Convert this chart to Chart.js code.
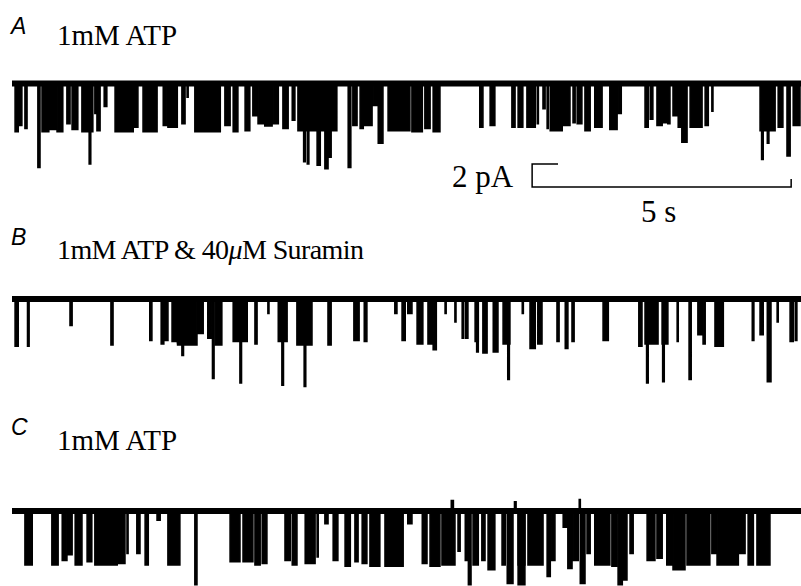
<!DOCTYPE html>
<html>
<head>
<meta charset="utf-8">
<script src="https://cdn.jsdelivr.net/npm/chart.js@4.4.1/dist/chart.umd.min.js"></script>
<style>
  html, body { margin: 0; padding: 0; background: #fff; }
  #fig { position: relative; width: 801px; height: 586px; background: #fff; overflow: hidden; }
  .panel { position: absolute; left: 12px; }
  .tag { position: absolute; left: 11px; font: italic 23px "Liberation Sans", Arial, sans-serif; line-height: 1; color: #000; }
  .cond { position: absolute; left: 57px; font: 29px "Liberation Serif", "Times New Roman", serif; line-height: 1; color: #000; white-space: nowrap; }
  .cond.long { font-size: 28px; letter-spacing: -0.6px; }
  .bar { position: absolute; font: 31px "Liberation Serif", "Times New Roman", serif; line-height: 1; color: #000; white-space: nowrap; }
</style>
</head>
<body>
<div id="fig">
  <div class="tag" style="top:15px">A</div>
  <div class="cond" style="top:21px">1mM ATP</div>
  <div class="bar" style="left:452px;top:161px">2 pA</div>
  <div class="bar" style="left:641px;top:196px">5 s</div>

  <div class="tag" style="top:226px">B</div>
  <div class="cond long" style="top:236px">1mM ATP &amp; 40<i>μ</i>M Suramin</div>

  <div class="tag" style="top:416px">C</div>
  <div class="cond" style="top:426px">1mM ATP</div>

  <canvas id="trA" class="panel" width="789" height="125" style="top:70px"></canvas>
  <canvas id="trB" class="panel" width="789" height="110" style="top:285px"></canvas>
  <canvas id="trC" class="panel" width="789" height="91" style="top:495px"></canvas>
</div>
<script>
// Recording window (s)
const T_START = 0;
const T_END = 15.23;

// Channel openings: [start s, end s, inward current pA]
const openingsA = [
  [0.06,0.12,4.2],[0.15,0.19,3.65],[0.25,0.29,3.9],
  [0.58,0.71,4.2],[0.73,0.85,4.0],[0.87,0.98,4.2],
  [1.06,1.12,3.5],[1.16,1.27,4.0],[1.35,1.56,4.2],[1.60,1.62,2.6],[1.64,1.70,4.1],[1.78,1.83,2.0],
  [1.99,2.13,4.2],[2.16,2.34,4.2],[2.37,2.43,3.8],[2.53,2.80,4.2],[2.92,2.99,3.65],[3.01,3.19,3.8],
  [3.28,3.34,3.5],[3.38,3.40,1.2],[3.53,4.02,4.2],[4.11,4.21,3.65],[4.27,4.36,4.2],[4.50,4.59,4.1],
  [4.65,4.73,2.8],[4.75,4.85,3.5],[4.88,5.02,3.7],[5.04,5.14,3.5],[5.23,5.33,3.9],[5.41,5.46,3.2],
  [5.52,5.84,4.1],[5.86,6.27,4.1],[6.58,6.66,3.65],[6.72,6.78,3.9],[6.81,6.95,3.65],[6.97,7.05,1.9],
  [7.07,7.16,5.2],[7.26,7.68,4.1],[7.72,7.92,4.2],[7.97,8.07,3.9],[8.13,8.26,4.2],
  [9.03,9.09,3.8],[9.23,9.32,3.65],[9.65,9.71,3.8],[9.77,9.86,3.8],[9.94,10.10,3.8],[10.14,10.16,3.5],
  [10.25,10.29,2.2],[10.33,10.35,3.9],[10.39,10.62,4.1],[10.64,10.77,3.65],[10.83,10.87,3.4],
  [10.91,11.00,3.5],[11.06,11.16,4.1],[11.25,11.39,3.8],[11.54,11.68,4.0],[11.70,11.76,2.6],
  [12.22,12.28,3.8],[12.32,12.37,3.1],[12.45,12.55,3.65],[12.57,12.64,3.4],[12.66,12.70,3.5],
  [12.76,12.85,2.8],[12.86,12.93,3.8],[13.09,13.32,3.8],[13.38,13.44,3.65],[13.51,13.53,2.4],
  [14.44,14.73,4.1],[14.79,14.88,3.8],[15.08,15.21,3.65]
];
// Double openings / large excursions
const spikesA = [
  [0.50,0.54,7.3],[1.49,1.52,7.0],[5.63,5.66,6.8],[5.70,5.73,7.0],[5.89,5.95,7.1],[6.04,6.10,7.4],
  [6.13,6.16,6.4],[6.49,6.54,7.3],[12.93,13.03,5.1],[14.47,14.50,6.6],[14.58,14.61,5.2],[14.96,15.02,6.3]
];

const openingsB = [
  [0.06,0.12,4.1],[0.30,0.33,4.1],[1.12,1.16,2.3],[1.91,1.95,4.0],[2.66,2.70,3.6],[2.88,2.93,3.9],
  [2.95,3.01,3.6],[3.09,3.19,3.7],[3.20,3.57,4.0],[3.59,3.69,3.0],[3.78,3.86,3.4],[3.92,4.05,4.0],
  [4.27,4.54,3.7],[4.69,4.73,3.9],[4.94,4.96,1.25],[5.14,5.31,3.7],[5.50,5.79,4.0],[6.10,6.16,4.0],
  [6.60,6.70,3.6],[6.80,6.85,3.7],[7.39,7.43,1.25],[7.53,7.59,3.6],[7.64,7.72,1.25],[7.82,7.93,3.9],
  [8.03,8.11,3.9],[8.13,8.19,4.4],[8.36,8.38,1.25],[8.55,8.57,2.0],[8.69,8.71,3.4],[8.75,8.80,3.4],
  [8.94,9.00,3.7],[9.09,9.17,4.7],[9.29,9.38,4.6],[9.48,9.61,3.9],[9.85,9.87,1.25],[10.00,10.10,4.3],
  [10.15,10.23,3.9],[10.52,10.56,3.7],[10.68,10.73,4.3],[10.81,10.85,3.7],[11.41,11.51,3.6],
  [12.10,12.16,4.1],[12.22,12.47,3.9],[12.55,12.66,3.9],[12.84,12.86,3.7],[13.24,13.32,3.1],
  [13.34,13.38,3.9],[13.57,13.73,4.1],[14.29,14.32,3.6],[14.44,14.50,3.1],[14.77,14.79,2.0],
  [15.02,15.08,3.7],[15.12,15.15,3.6]
];
const spikesB = [
  [3.28,3.31,4.9],[3.87,3.90,6.9],[4.40,4.43,7.3],[5.21,5.24,7.5],[5.64,5.67,7.6],[8.97,9.00,4.6],
  [9.57,9.60,7.0],[12.25,12.28,7.3],[12.56,12.59,7.2],[13.07,13.11,7.0],[14.58,14.65,7.2]
];

const openingsC = [
  [0.25,0.39,4.7],[0.77,0.89,4.7],[0.97,1.06,4.3],[1.08,1.16,3.8],[1.22,1.35,4.7],[1.45,1.54,4.4],
  [1.60,1.83,4.7],[1.85,2.03,4.7],[2.05,2.18,4.55],[2.22,2.24,3.7],[2.41,2.47,3.7],[2.57,2.63,4.7],
  [2.80,2.86,0.8],[3.01,3.24,4.7],[4.21,4.40,4.4],[4.46,4.65,4.4],[4.69,4.79,4.7],[4.83,4.92,4.55],
  [5.27,5.37,4.3],[5.41,5.50,4.7],[5.66,5.85,4.55],[5.89,5.91,4.0],[6.04,6.10,1.1],[6.20,6.29,4.3],
  [6.43,6.53,4.8],[6.62,6.68,4.4],[6.76,6.85,4.55],[6.91,7.10,4.8],[7.20,7.55,4.8],[7.64,7.72,1.1],
  [7.92,8.01,4.55],[8.07,8.26,4.8],[8.30,8.55,4.7],[8.61,8.65,3.5],[8.75,8.80,4.3],[8.90,9.00,4.7],
  [9.07,9.13,4.3],[9.19,9.32,5.1],[9.46,9.52,4.7],[9.77,9.90,4.7],[9.96,10.25,4.7],[10.42,10.48,4.3],
  [10.64,10.71,1.4],[10.73,10.81,5.0],[10.83,10.93,4.3],[11.10,11.16,3.7],[11.25,11.54,4.7],
  [11.58,11.68,4.8],[11.93,11.99,3.7],[12.26,12.41,4.3],[12.45,12.55,4.1],[12.64,12.74,4.7],
  [12.76,12.99,5.1],[13.03,13.47,4.7],[13.51,13.60,3.7],[13.61,14.02,4.7],[14.05,14.15,3.7],
  [14.21,14.31,4.7],[14.38,14.63,4.7]
];
// negative values are brief outward noise transients
const spikesC = [
  [3.53,3.57,6.4],[8.48,8.52,-0.9],[8.81,8.86,6.4],[9.56,9.67,6.3],[9.70,9.73,-0.8],[9.77,9.90,6.4],
  [10.33,10.39,5.7],[10.95,10.97,-1.0],[10.97,11.06,6.3],[11.70,11.78,6.4],[11.80,11.87,6.0]
];

// Calibration bar
const SCALE_TIME = 5;      // s
const SCALE_CURRENT = 2;   // pA

// ---- drawing ----
const PX_PER_PA = 11.5;

function tracePoints(events) {
  const pts = [{ x: T_START, y: 0 }];
  events.slice().sort((a, b) => a[0] - b[0]).forEach(([t0, t1, amp]) => {
    pts.push({ x: t0, y: 0 }, { x: t0, y: -amp }, { x: t1, y: -amp }, { x: t1, y: 0 });
  });
  pts.push({ x: T_END, y: 0 });
  return pts;
}

function eventSet(events) {
  return {
    data: tracePoints(events),
    borderColor: '#000',
    backgroundColor: '#000',
    borderWidth: 1.6,
    fill: 'origin',
    pointRadius: 0,
    tension: 0,
    order: 2
  };
}

function baselineSet() {
  return {
    data: [{ x: T_START, y: 0 }, { x: T_END, y: 0 }],
    borderColor: '#000',
    borderWidth: 6,
    pointRadius: 0,
    fill: false,
    order: 1
  };
}

function makeTrace(id, openings, spikes, baseOffsetPx, extra) {
  const canvas = document.getElementById(id);
  const h = canvas.height;
  const datasets = [baselineSet(), eventSet(openings), eventSet(spikes)];
  if (extra) datasets.push(extra);
  new Chart(canvas, {
    type: 'line',
    data: { datasets },
    options: {
      responsive: false,
      animation: false,
      devicePixelRatio: 1,
      layout: { padding: 0 },
      plugins: { legend: { display: false }, tooltip: { enabled: false }, title: { display: false } },
      elements: { line: { borderJoinStyle: 'miter', borderCapStyle: 'butt' } },
      scales: {
        x: { type: 'linear', min: T_START, max: T_END, display: false },
        y: { min: -(h - baseOffsetPx) / PX_PER_PA, max: baseOffsetPx / PX_PER_PA, display: false }
      }
    }
  });
}

// calibration bracket anchored under trace A
const barT0 = 10.04, barI0 = -9.0;
const scaleBar = {
  data: [
    { x: barT0 + 0.5, y: barI0 + SCALE_CURRENT },
    { x: barT0, y: barI0 + SCALE_CURRENT },
    { x: barT0, y: barI0 },
    { x: barT0 + SCALE_TIME, y: barI0 },
    { x: barT0 + SCALE_TIME, y: barI0 + 0.7 }
  ],
  borderColor: '#000',
  borderWidth: 1.5,
  pointRadius: 0,
  fill: false,
  tension: 0,
  order: 0
};

makeTrace('trA', openingsA, spikesA, 13.5, scaleBar);
makeTrace('trB', openingsB, spikesB, 14);
makeTrace('trC', openingsC, spikesC, 16);
</script>
</body>
</html>
